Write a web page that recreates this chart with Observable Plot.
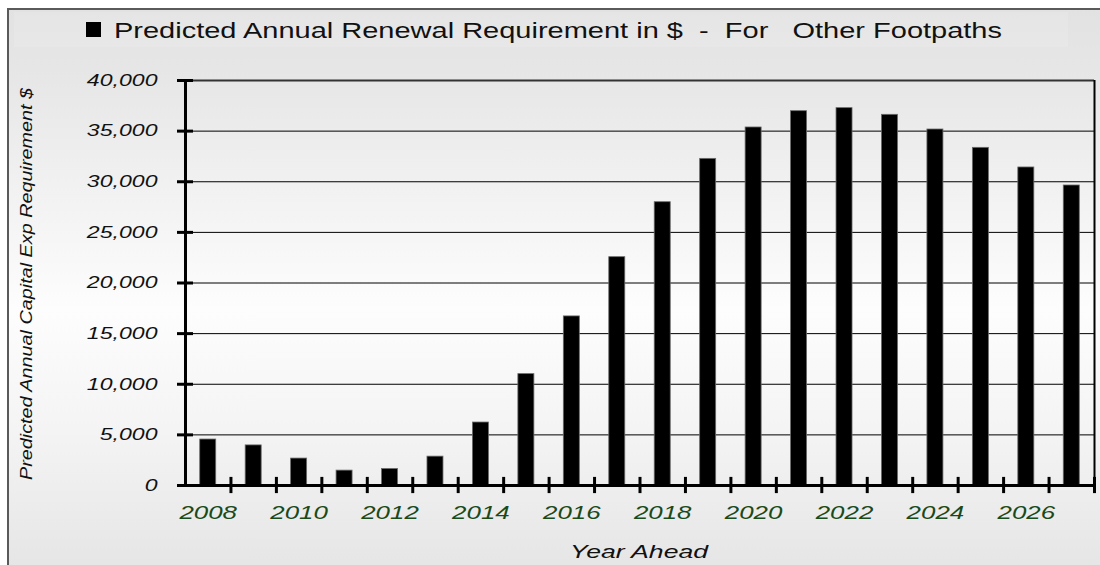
<!DOCTYPE html>
<html>
<head>
<meta charset="utf-8">
<script src="https://cdn.jsdelivr.net/npm/d3@7"></script>
<script src="https://cdn.jsdelivr.net/npm/@observablehq/plot@0.6"></script>
<style>
  html, body { margin: 0; padding: 0; background: #fff; }
  #wrap { position: relative; width: 1100px; height: 565px; overflow: hidden; background: #fff; }
  #frame { position: absolute; left: 7px; top: 8px; width: 1100px; height: 600px;
    border: 2px solid #5a5a5a;
    background: linear-gradient(to bottom, #e2e2e2 0%, #e7e7e7 12%, #fdfdfd 50%, #f4f4f4 70%, #e1e1e1 100%); }
  #chart { position: absolute; left: 0; top: 0; }
</style>
</head>
<body>
<div id="wrap">
  <div id="frame"></div>
  <div id="chart"></div>
</div>
<script>
// ---- data ----
const years = [2008, 2009, 2010, 2011, 2012, 2013, 2014, 2015, 2016, 2017,
               2018, 2019, 2020, 2021, 2022, 2023, 2024, 2025, 2026, 2027];
const values = [4540, 3960, 2660, 1470, 1630, 2850, 6220, 11000, 16700, 22550,
                27980, 32260, 35360, 36970, 37270, 36610, 35160, 33350, 31410, 29630];
const yTicks = [0, 5000, 10000, 15000, 20000, 25000, 30000, 35000, 40000];
const xLabelYears = [2008, 2010, 2012, 2014, 2016, 2018, 2020, 2022, 2024, 2026];
const legendText = "Predicted Annual Renewal Requirement in $  -  For   Other Footpaths";
const yTitle = "Predicted Annual Capital Exp Requirement $";
const xTitle = "Year Ahead";

const data = years.map((year, i) => ({year, value: values[i]}));
const xMin = years[0] - 0.5, xMax = years[years.length - 1] + 0.5;
const boundaries = years.map(y => y + 0.5);
const half = 0.176; // half bar width in category units
const font = "'Liberation Sans', Arial, Helvetica, sans-serif";

const chart = Plot.plot({
  width: 1100,
  height: 565,
  marginLeft: 185,
  marginRight: 6,
  marginTop: 80,
  marginBottom: 80,
  style: {background: "transparent", fontFamily: font, overflow: "visible"},
  x: {domain: [xMin, xMax]},
  y: {domain: [0, 40000]},
  marks: [
    Plot.ruleY(yTicks.slice(1, -1), {stroke: "#000", strokeWidth: 1}),
    Plot.rectY(data, {x1: d => d.year - half, x2: d => d.year + half, y: "value",
                      fill: "#000", stroke: "#6a6a6a", strokeWidth: 0.8}),
    Plot.ruleY([40000], {stroke: "#333", strokeWidth: 2}),
    Plot.ruleX([xMax], {stroke: "#000", strokeWidth: 2}),
    Plot.ruleX([xMin], {stroke: "#000", strokeWidth: 3}),
    Plot.ruleY([0], {stroke: "#000", strokeWidth: 3}),
    Plot.ruleX(boundaries, {y1: -800, y2: 800, stroke: "#000", strokeWidth: 3}),
    Plot.ruleY(yTicks, {x1: xMin - half, x2: xMin + half, stroke: "#000", strokeWidth: 3}),
    Plot.axisY(yTicks, {tickSize: 0, tickPadding: 28, tickFormat: d3.format(","),
                        fontSize: 16.5, fontStyle: "italic", fill: "#111", label: null}),
    Plot.axisX(xLabelYears, {tickSize: 0, tickPadding: 20, tickFormat: d => String(d),
                             fontSize: 18.5, fontStyle: "italic", fill: "#1a4a1a", label: null})
  ]
});
document.getElementById("chart").appendChild(chart);

const svg = d3.select(chart);
// horizontally stretched tick labels, as in the reference
svg.selectAll('g[aria-label="y-axis tick label"] text, g[aria-label="x-axis tick label"] text')
  .attr("transform", function() { return (this.getAttribute("transform") || "") + " scale(1.4,1)"; });

// legend
const lg = svg.append("g").attr("font-family", font).attr("text-anchor", "start");
lg.append("rect").attr("x", 14).attr("y", 12).attr("width", 1054).attr("height", 35)
  .attr("fill", "#ffffff").attr("fill-opacity", 0.12);
lg.append("rect").attr("x", 86).attr("y", 22).attr("width", 15).attr("height", 15).attr("fill", "#000");
lg.append("text").attr("x", 114).attr("y", 38).attr("font-size", 21.5).attr("fill", "#111")
  .attr("text-anchor", "start")
  .style("white-space", "pre")
  .attr("textLength", 888).attr("lengthAdjust", "spacingAndGlyphs")
  .text(legendText);

// y title
svg.append("text")
  .attr("transform", "translate(32,284) rotate(-90) scale(1,0.9)")
  .attr("text-anchor", "middle").attr("font-family", font)
  .attr("font-size", 19).attr("font-style", "italic").attr("fill", "#111")
  .attr("textLength", 392).attr("lengthAdjust", "spacingAndGlyphs")
  .text(yTitle);

// x title
svg.append("text")
  .attr("transform", "translate(639,558) scale(1.4,1)")
  .attr("text-anchor", "middle").attr("font-family", font)
  .attr("font-size", 19).attr("font-style", "italic").attr("fill", "#111")
  .text(xTitle);
</script>
</body>
</html>
